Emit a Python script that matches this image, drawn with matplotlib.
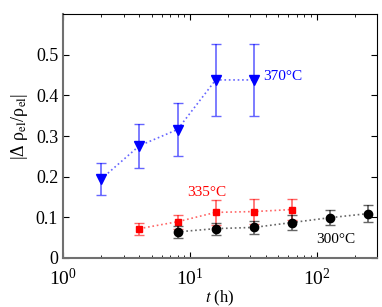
import matplotlib
matplotlib.use('Agg')
import matplotlib.pyplot as plt

plt.rcParams['font.family'] = ['Liberation Serif', 'DejaVu Serif']
plt.rcParams['mathtext.fontset'] = 'stix'

# 370 C series
t_370 = [2, 4, 8, 16, 32]
y_370 = [0.194, 0.276, 0.316, 0.438, 0.438]
e_370 = [0.039, 0.054, 0.064, 0.088, 0.088]

# 335 C series
t_335 = [4, 8, 16, 32, 64]
y_335 = [0.072, 0.089, 0.112, 0.114, 0.119]
e_335 = [0.015, 0.017, 0.031, 0.030, 0.026]

# 300 C series
t_300 = [8, 16, 32, 64, 128, 256]
y_300 = [0.064, 0.072, 0.075, 0.087, 0.099, 0.109]
e_300 = [0.015, 0.015, 0.015, 0.018, 0.019, 0.020]

fig = plt.figure(figsize=(3.82, 3.07), dpi=100)
ax = fig.add_axes([0.165, 0.160, 0.822, 0.794])

def series(t, y, e, color, marker, ms):
    ax.plot(t, y, linestyle=':', color=color, alpha=0.6, lw=1.2)
    ax.errorbar(t, y, yerr=e, fmt='none', ecolor=color, alpha=0.6,
                elinewidth=1.2, capsize=3.5, capthick=1.0)
    ax.plot(t, y, linestyle='none', marker=marker, color=color, ms=ms)

series(t_370, y_370, e_370, 'blue', 'v', 7)
series(t_335, y_335, e_335, 'red', 's', 5)
series(t_300, y_300, e_300, 'black', 'o', 6)

ax.text(38, 0.446, '370°C', color='blue', fontsize=11, va='center')
ax.text(9.6, 0.162, '335°C', color='red', fontsize=11, va='center')
ax.text(100, 0.046, '300°C', color='black', fontsize=11, va='center')

ax.set_xscale('log')
ax.set_xlim(1, 300)
ax.set_ylim(0, 0.6)
ax.set_yticks([0, 0.1, 0.2, 0.3, 0.4, 0.5])
ax.set_yticklabels(['0', '0.1', '0.2', '0.3', '0.4', '0.5'])
ax.tick_params(which='both', direction='in', top=True, right=True, labelsize=13)
ax.tick_params(axis='x', labelsize=14, pad=7)
ax.tick_params(which='major', length=4)
ax.tick_params(which='minor', length=2)
for s in ['left', 'bottom']:
    ax.spines[s].set_color('#707070')
    ax.spines[s].set_linewidth(1.5)

ax.set_xlabel('$t$ (h)', fontsize=12, labelpad=0)
ax.set_ylabel(r'|Δ ρ$_{\rm el}$/ρ$_{\rm el}$|', fontsize=13)
ax.yaxis.set_label_coords(-0.105, 0.54)

fig.savefig('out.png', dpi=100)
